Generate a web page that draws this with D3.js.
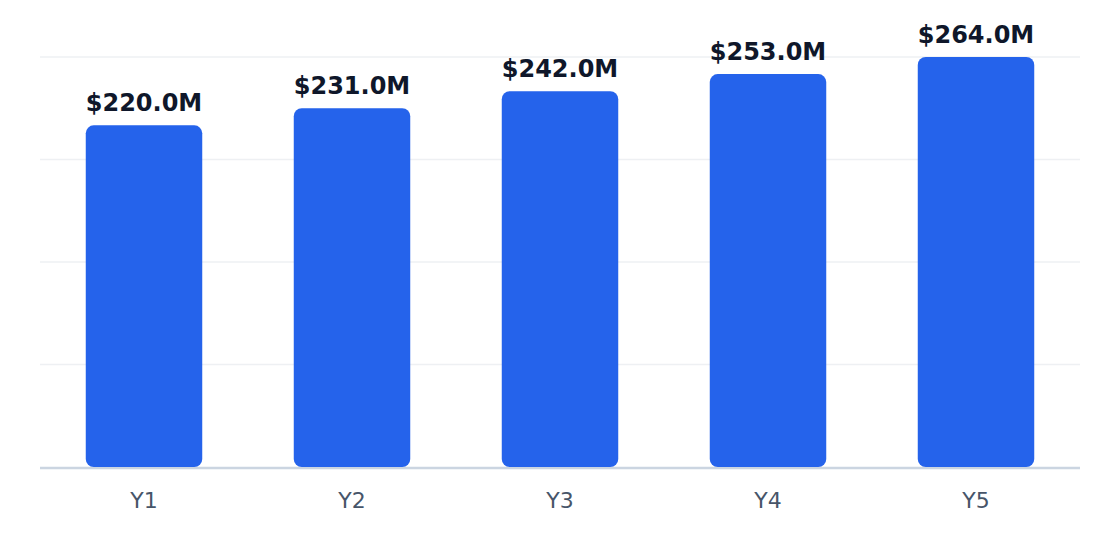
<!DOCTYPE html>
<html>
<head>
<meta charset="utf-8">
<script src="https://cdn.jsdelivr.net/npm/d3@7"></script>
<style>
  body { margin: 0; background: #fff; }
</style>
</head>
<body>
<div id="chart"></div>
<script>
const years = ["Y1", "Y2", "Y3", "Y4", "Y5"];
const revenue = [220, 231, 242, 253, 264];
const yTicks = [0, 66, 132, 198, 264];

const width = 1120, height = 560;
const margin = { top: 57, right: 40, bottom: 93, left: 40 };

const x = d3.scaleBand()
    .domain(years)
    .range([margin.left, width - margin.right])
    .paddingInner(0.44)
    .paddingOuter(0.22);

const y = d3.scaleLinear()
    .domain([0, 264])
    .range([height - margin.bottom, margin.top]);

const svg = d3.select("#chart")
    .append("svg")
    .attr("width", width)
    .attr("height", height)
    .attr("font-family", "DejaVu Sans, sans-serif");

// grid
svg.append("g")
    .selectAll("line")
    .data(yTicks.slice(1))
    .join("line")
        .attr("x1", margin.left)
        .attr("x2", width - margin.right)
        .attr("y1", d => y(d))
        .attr("y2", d => y(d))
        .attr("stroke", "#eef0f3")
        .attr("stroke-width", 1.5);

// baseline
svg.append("line")
    .attr("x1", margin.left)
    .attr("x2", width - margin.right)
    .attr("y1", y(0) + 1)
    .attr("y2", y(0) + 1)
    .attr("stroke", "#cbd5e1")
    .attr("stroke-width", 2.5);

const data = years.map((d, i) => ({ name: d, value: revenue[i] }));

svg.append("g")
    .selectAll("rect")
    .data(data)
    .join("rect")
        .attr("x", d => x(d.name))
        .attr("y", d => y(d.value))
        .attr("width", x.bandwidth())
        .attr("height", d => y(0) - y(d.value))
        .attr("rx", 8)
        .attr("fill", "#2563eb");

svg.append("g")
    .selectAll("text")
    .data(data)
    .join("text")
        .attr("x", d => x(d.name) + x.bandwidth() / 2)
        .attr("y", d => y(d.value) - 14)
        .attr("text-anchor", "middle")
        .attr("font-size", 24)
        .attr("font-weight", "bold")
        .attr("fill", "#0f172a")
        .text(d => `$${d.value.toFixed(1)}M`);

// x axis labels
svg.append("g")
    .selectAll("text")
    .data(years)
    .join("text")
        .attr("x", d => x(d) + x.bandwidth() / 2)
        .attr("y", y(0) + 41)
        .attr("text-anchor", "middle")
        .attr("font-size", 22)
        .attr("fill", "#475569")
        .text(d => d);
</script>
</body>
</html>
